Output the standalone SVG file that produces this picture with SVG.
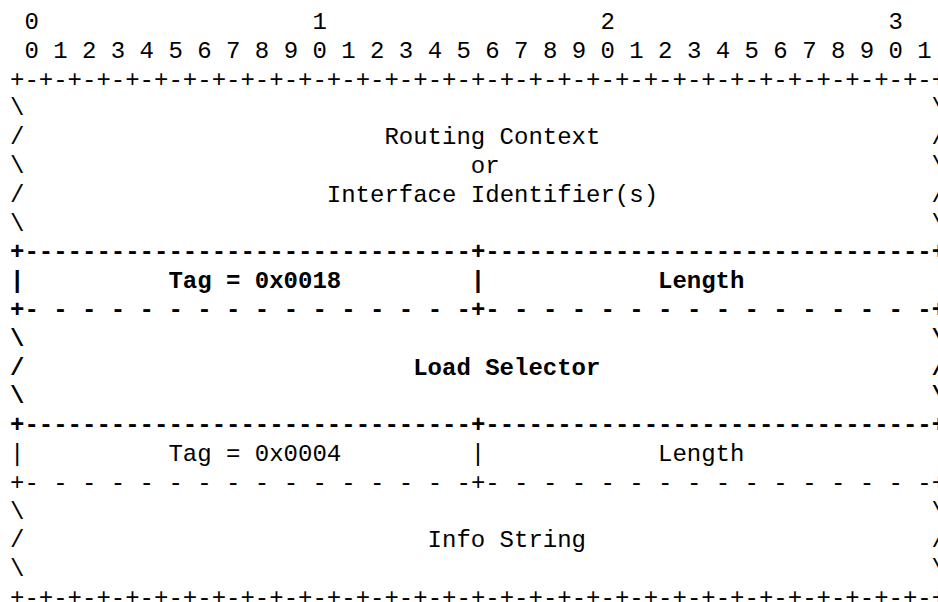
<svg xmlns="http://www.w3.org/2000/svg" width="938" height="602" viewBox="0 0 938 602">
<style>
  text { font-family: "Liberation Mono", "Courier New", monospace; font-size: 24px; fill: #000; white-space: pre; }
  .b { font-weight: bold; }
</style>
<rect x="0" y="0" width="938" height="602" fill="#ffffff"/>
<g id="ruler">
  <text x="24.4" y="29">0</text>
  <text x="312.4" y="29">1</text>
  <text x="600.4" y="29">2</text>
  <text x="888.4" y="29">3</text>
  <text x="10" y="57.8" xml:space="preserve"> 0 1 2 3 4 5 6 7 8 9 0 1 2 3 4 5 6 7 8 9 0 1 2 3 4 5 6 7 8 9 0 1</text>
</g>
<g id="connectors">
  <text x="10" y="86.6" xml:space="preserve">+-+-+-+-+-+-+-+-+-+-+-+-+-+-+-+-+-+-+-+-+-+-+-+-+-+-+-+-+-+-+-+-+</text>
  <text class="b" x="10" y="259.4" xml:space="preserve">+-------------------------------+-------------------------------+</text>
  <text class="b" x="10" y="317" xml:space="preserve">+- - - - - - - - - - - - - - - -+- - - - - - - - - - - - - - - -+</text>
  <text class="b" x="10" y="432.2" xml:space="preserve">+-------------------------------+-------------------------------+</text>
  <text x="10" y="489.8" xml:space="preserve">+- - - - - - - - - - - - - - - -+- - - - - - - - - - - - - - - -+</text>
  <text x="10" y="605" xml:space="preserve">+-+-+-+-+-+-+-+-+-+-+-+-+-+-+-+-+-+-+-+-+-+-+-+-+-+-+-+-+-+-+-+-+</text>
</g>
<g id="routing-context">
  <text x="10" y="115.4">\</text><text x="931.6" y="115.4">\</text>
  <text x="10" y="144.2">/</text><text x="384.4" y="144.2">Routing Context</text><text x="931.6" y="144.2">/</text>
  <text x="10" y="173">\</text><text x="470.8" y="173">or</text><text x="931.6" y="173">\</text>
  <text x="10" y="201.8">/</text><text x="326.8" y="201.8">Interface Identifier(s)</text><text x="931.6" y="201.8">/</text>
  <text x="10" y="230.6">\</text><text x="931.6" y="230.6">\</text>
</g>
<g id="tag-0x0018">
  <text class="b" x="10" y="288.2">|</text>
  <text class="b" x="168.4" y="288.2">Tag = 0x0018</text>
  <text class="b" x="470.8" y="288.2">|</text>
</g>
<g id="length-1">
  <text class="b" x="658" y="288.2">Length</text>
</g>
<g id="load-selector">
  <text class="b" x="10" y="345.8">\</text><text class="b" x="931.6" y="345.8">\</text>
  <text class="b" x="10" y="374.6">/</text><text class="b" x="413.2" y="374.6">Load Selector</text><text class="b" x="931.6" y="374.6">/</text>
  <text class="b" x="10" y="403.4">\</text><text class="b" x="931.6" y="403.4">\</text>
</g>
<g id="tag-0x0004">
  <text x="10" y="461">|</text>
  <text x="168.4" y="461">Tag = 0x0004</text>
  <text x="470.8" y="461">|</text>
</g>
<g id="length-2">
  <text x="658" y="461">Length</text>
</g>
<g id="info-string">
  <text x="10" y="518.6">\</text><text x="931.6" y="518.6">\</text>
  <text x="10" y="547.4">/</text><text x="427.6" y="547.4">Info String</text><text x="931.6" y="547.4">/</text>
  <text x="10" y="576.2">\</text><text x="931.6" y="576.2">\</text>
</g>
</svg>
